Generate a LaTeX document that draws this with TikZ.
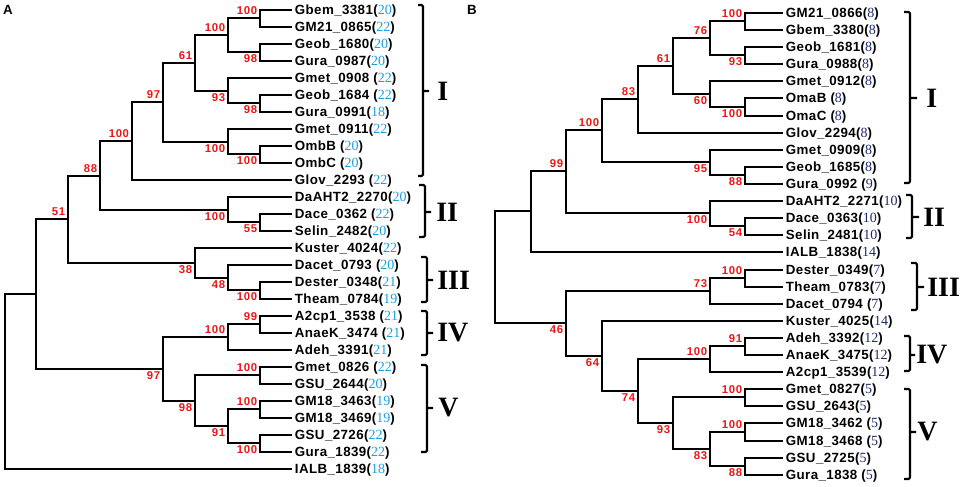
\documentclass[tikz,border=0pt]{standalone}
\usepackage{fontspec}
\setmainfont{Liberation Serif}
\newfontfamily\arialbf[LetterSpace=3]{Liberation Sans}
\newfontfamily\arialboot[LetterSpace=6]{Liberation Sans}
\usepackage{xcolor}
\definecolor{numA}{RGB}{28,158,226}
\definecolor{numB}{RGB}{28,42,110}
\definecolor{bootred}{RGB}{240,20,20}
\newcommand{\cntA}[1]{(\textcolor{numA}{\rmfamily\mdseries\fontsize{10.5pt}{12pt}\selectfont #1})}
\newcommand{\cntB}[1]{(\textcolor{numB}{\rmfamily\mdseries\fontsize{10.5pt}{12pt}\selectfont #1})}

\begin{document}
\begin{tikzpicture}[
			x=0.75pt, y=-0.75pt,
			leaf/.style={anchor=west, inner sep=2pt, text height=8pt, text depth=1pt, font=\arialbf\bfseries\fontsize{10pt}{11pt}\selectfont},
			boot/.style={inner sep=2pt, text=bootred, font=\arialboot\bfseries\fontsize{8.5pt}{9pt}\selectfont},
			clade/.style={line width=2.1pt},
			brk/.style={line width=1.6pt, rounded corners=1pt},
			roman/.style={anchor=west, inner sep=0pt, font=\rmfamily\bfseries\fontsize{21pt}{21pt}\selectfont},
			panel/.style={inner sep=0pt, font=\arialbf\bfseries\fontsize{10pt}{10pt}\selectfont}
			]
			\useasboundingbox (0,0) rectangle (964,486);
			
			\node[panel] (pA) at (8,10) {A};
			\node[panel] (pB) at (472,10) {B};
			
			% panel A
			\node[leaf] (a0) at (292,10) {Gbem\_3381\cntA{20}};
			\node[leaf] (a1) at (292,27) {GM21\_0865\cntA{22}};
			\node[leaf] (a2) at (292,44) {Geob\_1680\cntA{20}};
			\node[leaf] (a3) at (292,61) {Gura\_0987\cntA{20}};
			\node[leaf] (a4) at (292,78) {Gmet\_0908 \cntA{22}};
			\node[leaf] (a5) at (292,95) {Geob\_1684 \cntA{22}};
			\node[leaf] (a6) at (292,112) {Gura\_0991\cntA{18}};
			\node[leaf] (a7) at (292,129) {Gmet\_0911\cntA{22}};
			\node[leaf] (a8) at (292,146) {OmbB \cntA{20}};
			\node[leaf] (a9) at (292,163) {OmbC \cntA{20}};
			\node[leaf] (a10) at (292,180) {Glov\_2293 \cntA{22}};
			\node[leaf] (a11) at (292,197) {DaAHT2\_2270\cntA{20}};
			\node[leaf] (a12) at (292,214) {Dace\_0362 \cntA{22}};
			\node[leaf] (a13) at (292,231) {Selin\_2482\cntA{20}};
			\node[leaf] (a14) at (292,248) {Kuster\_4024\cntA{22}};
			\node[leaf] (a15) at (292,265) {Dacet\_0793 \cntA{20}};
			\node[leaf] (a16) at (292,282) {Dester\_0348\cntA{21}};
			\node[leaf] (a17) at (292,299) {Theam\_0784\cntA{19}};
			\node[leaf] (a18) at (292,316) {A2cp1\_3538 \cntA{21}};
			\node[leaf] (a19) at (292,333) {AnaeK\_3474 \cntA{21}};
			\node[leaf] (a20) at (292,350) {Adeh\_3391\cntA{21}};
			\node[leaf] (a21) at (292,367) {Gmet\_0826 \cntA{22}};
			\node[leaf] (a22) at (292,384) {GSU\_2644\cntA{20}};
			\node[leaf] (a23) at (292,401) {GM18\_3463\cntA{19}};
			\node[leaf] (a24) at (292,418) {GM18\_3469\cntA{19}};
			\node[leaf] (a25) at (292,435) {GSU\_2726\cntA{22}};
			\node[leaf] (a26) at (292,452) {Gura\_1839\cntA{22}};
			\node[leaf] (a27) at (292,469) {IALB\_1839\cntA{18}};
			
			\coordinate[label={[boot]above left:100}] (ac1) at (260,18);
			\coordinate[label={[boot]below left:98}] (ac2) at (260,52);
			\coordinate[label={[boot]below left:98}] (ac3) at (260,103);
			\coordinate[label={[boot]below left:100}] (ac4) at (260,154);
			\coordinate[label={[boot]below left:55}] (ac5) at (260,222);
			\coordinate[label={[boot]below left:100}] (ac6) at (260,290);
			\coordinate[label={[boot]above left:99}] (ac7) at (260,324);
			\coordinate[label={[boot]above left:100}] (ac8) at (260,375);
			\coordinate[label={[boot]above left:100}] (ac9) at (260,409);
			\coordinate[label={[boot]below left:100}] (ac10) at (260,443);
			\coordinate[label={[boot]above left:100}] (ai1) at (228,35);
			\coordinate[label={[boot]below left:93}] (ai2) at (228,91);
			\coordinate[label={[boot]below left:100}] (ai3) at (228,142);
			\coordinate[label={[boot]below left:100}] (ai4) at (228,210);
			\coordinate[label={[boot]below left:48}] (ai5) at (228,278);
			\coordinate[label={[boot]above left:100}] (ai6) at (228,337);
			\coordinate[label={[boot]below left:91}] (ai7) at (228,426);
			\coordinate[label={[boot]above left:61}] (ah1) at (195,63);
			\coordinate[label={[boot]below left:38}] (ah2) at (195,263);
			\coordinate[label={[boot]below left:98}] (ah3) at (195,401);
			\coordinate[label={[boot]above left:97}] (ag1) at (163,102);
			\coordinate[label={[boot]below left:97}] (ag2) at (163,369);
			\coordinate[label={[boot]above left:100}] (af1) at (132,141);
			\coordinate[label={[boot]above left:88}] (ae1) at (100,176);
			\coordinate[label={[boot]above left:51}] (ad1) at (68,219);
			\coordinate (ab1) at (36,294);
			\coordinate (aroot) at (5,382);
			
			\draw[clade] (a0) -| (ac1) |- (a1);
			\draw[clade] (a2) -| (ac2) |- (a3);
			\draw[clade] (a5) -| (ac3) |- (a6);
			\draw[clade] (a8) -| (ac4) |- (a9);
			\draw[clade] (a12) -| (ac5) |- (a13);
			\draw[clade] (a16) -| (ac6) |- (a17);
			\draw[clade] (a18) -| (ac7) |- (a19);
			\draw[clade] (a21) -| (ac8) |- (a22);
			\draw[clade] (a23) -| (ac9) |- (a24);
			\draw[clade] (a25) -| (ac10) |- (a26);
			\draw[clade] (ac1) -| (ai1) |- (ac2);
			\draw[clade] (a4) -| (ai2) |- (ac3);
			\draw[clade] (a7) -| (ai3) |- (ac4);
			\draw[clade] (a11) -| (ai4) |- (ac5);
			\draw[clade] (a15) -| (ai5) |- (ac6);
			\draw[clade] (ac7) -| (ai6) |- (a20);
			\draw[clade] (ac9) -| (ai7) |- (ac10);
			\draw[clade] (ai1) -| (ah1) |- (ai2);
			\draw[clade] (a14) -| (ah2) |- (ai5);
			\draw[clade] (ac8) -| (ah3) |- (ai7);
			\draw[clade] (ah1) -| (ag1) |- (ai3);
			\draw[clade] (ai6) -| (ag2) |- (ah3);
			\draw[clade] (ag1) -| (af1) |- (a10);
			\draw[clade] (af1) -| (ae1) |- (ai4);
			\draw[clade] (ae1) -| (ad1) |- (ah2);
			\draw[clade] (ad1) -| (ab1) |- (ag2);
			\draw[clade] (ab1) -| (aroot) |- (a27);
			
			\draw[brk] (418,5) -- (423,5) -- (423,176) -- (418,176) (423,91) -- (429,91);
			\draw[brk] (419,185) -- (425,185) -- (425,237) -- (419,237) (425,212) -- (431,212);
			\draw[brk] (421,257) -- (427,257) -- (427,302) -- (421,302) (427,280) -- (433,280);
			\draw[brk] (421,311) -- (427,311) -- (427,355) -- (421,355) (427,333) -- (433,333);
			\draw[brk] (421,365) -- (427,365) -- (427,452) -- (421,452) (427,408) -- (433,408);
			\node[roman] (rA1) at (437,91) {I};
			\node[roman] (rA2) at (436,212) {II};
			\node[roman] (rA3) at (437,280) {III};
			\node[roman] (rA4) at (437,333) {IV};
			\node[roman] (rA5) at (438,408) {V};
			
			% panel B
			\node[leaf] (b0) at (783,13) {GM21\_0866\cntB{8}};
			\node[leaf] (b1) at (783,30) {Gbem\_3380\cntB{8}};
			\node[leaf] (b2) at (783,47) {Geob\_1681\cntB{8}};
			\node[leaf] (b3) at (783,64) {Gura\_0988\cntB{8}};
			\node[leaf] (b4) at (783,81) {Gmet\_0912\cntB{8}};
			\node[leaf] (b5) at (783,98) {OmaB \cntB{8}};
			\node[leaf] (b6) at (783,116) {OmaC \cntB{8}};
			\node[leaf] (b7) at (783,133) {Glov\_2294\cntB{8}};
			\node[leaf] (b8) at (783,150) {Gmet\_0909\cntB{8}};
			\node[leaf] (b9) at (783,167) {Geob\_1685\cntB{8}};
			\node[leaf] (b10) at (783,184) {Gura\_0992 \cntB{9}};
			\node[leaf] (b11) at (783,201) {DaAHT2\_2271\cntB{10}};
			\node[leaf] (b12) at (783,218) {Dace\_0363\cntB{10}};
			\node[leaf] (b13) at (783,235) {Selin\_2481\cntB{10}};
			\node[leaf] (b14) at (783,252) {IALB\_1838\cntB{14}};
			\node[leaf] (b15) at (783,270) {Dester\_0349\cntB{7}};
			\node[leaf] (b16) at (783,287) {Theam\_0783\cntB{7}};
			\node[leaf] (b17) at (783,304) {Dacet\_0794 \cntB{7}};
			\node[leaf] (b18) at (783,321) {Kuster\_4025\cntB{14}};
			\node[leaf] (b19) at (783,338) {Adeh\_3392\cntB{12}};
			\node[leaf] (b20) at (783,355) {AnaeK\_3475\cntB{12}};
			\node[leaf] (b21) at (783,372) {A2cp1\_3539\cntB{12}};
			\node[leaf] (b22) at (783,389) {Gmet\_0827\cntB{5}};
			\node[leaf] (b23) at (783,406) {GSU\_2643\cntB{5}};
			\node[leaf] (b24) at (783,423) {GM18\_3462 \cntB{5}};
			\node[leaf] (b25) at (783,441) {GM18\_3468 \cntB{5}};
			\node[leaf] (b26) at (783,458) {GSU\_2725\cntB{5}};
			\node[leaf] (b27) at (783,475) {Gura\_1838 \cntB{5}};
			
			\coordinate[label={[boot]above left:100}] (bc1) at (745,21);
			\coordinate[label={[boot]below left:93}] (bc2) at (745,55);
			\coordinate[label={[boot]below left:100}] (bc3) at (745,107);
			\coordinate[label={[boot]below left:88}] (bc4) at (745,175);
			\coordinate[label={[boot]below left:54}] (bc5) at (745,226);
			\coordinate[label={[boot]above left:100}] (bc6) at (745,278);
			\coordinate[label={[boot]above left:91}] (bc7) at (745,346);
			\coordinate[label={[boot]above left:100}] (bc8) at (745,397);
			\coordinate[label={[boot]above left:100}] (bc9) at (745,432);
			\coordinate[label={[boot]below left:88}] (bc10) at (745,466);
			\coordinate[label={[boot]above left:76}] (bi1) at (710,38);
			\coordinate[label={[boot]below left:60}] (bi2) at (710,94);
			\coordinate[label={[boot]below left:95}] (bi3) at (710,162);
			\coordinate[label={[boot]below left:100}] (bi4) at (710,213);
			\coordinate[label={[boot]above left:73}] (bi5) at (710,291);
			\coordinate[label={[boot]above left:100}] (bi6) at (710,359);
			\coordinate[label={[boot]below left:83}] (bi7) at (710,449);
			\coordinate[label={[boot]above left:61}] (bh1) at (673,66);
			\coordinate[label={[boot]below left:93}] (bh2) at (673,423);
			\coordinate[label={[boot]above left:83}] (bg1) at (638,99);
			\coordinate[label={[boot]below left:74}] (bg2) at (638,391);
			\coordinate[label={[boot]above left:100}] (bf1) at (602,130);
			\coordinate[label={[boot]below left:64}] (bf2) at (602,356);
			\coordinate[label={[boot]above left:99}] (be1) at (566,171);
			\coordinate[label={[boot]below left:46}] (be2) at (566,323);
			\coordinate (bd1) at (531,211);
			\coordinate (broot) at (495,267);
			
			\draw[clade] (b0) -| (bc1) |- (b1);
			\draw[clade] (b2) -| (bc2) |- (b3);
			\draw[clade] (b5) -| (bc3) |- (b6);
			\draw[clade] (b9) -| (bc4) |- (b10);
			\draw[clade] (b12) -| (bc5) |- (b13);
			\draw[clade] (b15) -| (bc6) |- (b16);
			\draw[clade] (b19) -| (bc7) |- (b20);
			\draw[clade] (b22) -| (bc8) |- (b23);
			\draw[clade] (b24) -| (bc9) |- (b25);
			\draw[clade] (b26) -| (bc10) |- (b27);
			\draw[clade] (bc1) -| (bi1) |- (bc2);
			\draw[clade] (b4) -| (bi2) |- (bc3);
			\draw[clade] (b8) -| (bi3) |- (bc4);
			\draw[clade] (b11) -| (bi4) |- (bc5);
			\draw[clade] (bc6) -| (bi5) |- (b17);
			\draw[clade] (bc7) -| (bi6) |- (b21);
			\draw[clade] (bc9) -| (bi7) |- (bc10);
			\draw[clade] (bi1) -| (bh1) |- (bi2);
			\draw[clade] (bc8) -| (bh2) |- (bi7);
			\draw[clade] (bh1) -| (bg1) |- (b7);
			\draw[clade] (bi6) -| (bg2) |- (bh2);
			\draw[clade] (bg1) -| (bf1) |- (bi3);
			\draw[clade] (b18) -| (bf2) |- (bg2);
			\draw[clade] (bf1) -| (be1) |- (bi4);
			\draw[clade] (bi5) -| (be2) |- (bf2);
			\draw[clade] (be1) -| (bd1) |- (b14);
			\draw[clade] (bd1) -| (broot) |- (be2);
			
			\draw[brk] (904,12) -- (910,12) -- (910,183) -- (904,183) (910,98) -- (917,98);
			\draw[brk] (906,195) -- (912,195) -- (912,238) -- (906,238) (912,217) -- (919,217);
			\draw[brk] (911,263) -- (917,263) -- (917,310) -- (911,310) (917,287) -- (924,287);
			\draw[brk] (904,336) -- (910,336) -- (910,371) -- (904,371) (910,355) -- (915,355);
			\draw[brk] (904,389) -- (910,389) -- (910,479) -- (904,479) (910,432) -- (916,432);
			\node[roman] (rB1) at (926,98) {I};
			\node[roman] (rB2) at (923,217) {II};
			\node[roman] (rB3) at (927,287) {III};
			\node[roman] (rB4) at (916,355) {IV};
			\node[roman] (rB5) at (917,432) {V};
			
		\end{tikzpicture}
\end{document}
